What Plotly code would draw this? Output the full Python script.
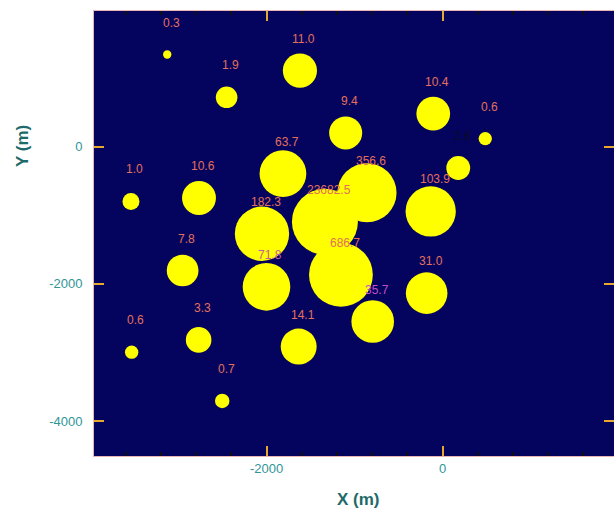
import plotly.graph_objects as go
import numpy as np

# Well / source locations (m) and their values
x_m = [-3130, -2455, -1622, -1102, -107, 484, 177, -3542, -2769, -1815, -860, -136,
       -2053, -1338, -2955, -2002, -1156, -182, -795, -3534, -2773, -1636, -2505]
y_m = [1343, 720, 1109, 200, 482, 117, -311, -799, -749, -394, -672, -945,
       -1270, -1095, -1806, -2044, -1869, -2136, -2550, -2997, -2818, -2915, -3708]
values = [0.3, 1.9, 11.0, 9.4, 10.4, 0.6, 2.6, 1.0, 10.6, 63.7, 356.6, 103.9,
          182.3, 23682.5, 7.8, 71.8, 686.7, 31.0, 35.7, 0.6, 3.3, 14.1, 0.7]
label_shown = [True, True, True, True, True, True, False, True, True, True, True, True,
               True, True, True, True, True, True, True, True, True, True, True]
x_ticks = [-2000, 0]
y_ticks = [-4000, -2000, 0]

vals = np.array(values)
sizes = np.minimum(17 + 16.5 * np.log10(vals), 66)

W, H = 614, 512
L, T, R, B = 94, 11, 0, 56

fig = go.Figure()
fig.add_trace(go.Scatter(
    x=x_m, y=y_m, mode="markers",
    marker=dict(size=sizes, color="#ffff00", line=dict(width=0), opacity=1),
    hoverinfo="skip", showlegend=False))

label_color = "#e2705c"
magenta = {15: "#c65aa8", 18: "#c050c8"}
for i, (xv, yv, v) in enumerate(zip(x_m, y_m, values)):
    col = label_color if label_shown[i] else "#0a0a28"
    col = magenta.get(i, col)
    fig.add_annotation(x=xv, y=yv, text=f"{v:.1f}", showarrow=False,
                       yshift=32, xshift=4,
                       font=dict(family="Arial, Liberation Sans, sans-serif", size=12, color=col))

pw, ph = 614 - 94, 456 - 11
fig.add_annotation(xref="paper", yref="paper", xanchor="center", yanchor="middle",
                   x=(358 - 94) / pw, y=-(500 - 456) / ph,
                   text="<b>X (m)</b>", showarrow=False,
                   font=dict(family="Arial, Liberation Sans, sans-serif", size=17, color="#1e6a6a"))
fig.add_annotation(xref="paper", yref="paper", xanchor="center", yanchor="middle",
                   x=-(94 - 23) / pw, y=(456 - 146) / ph,
                   text="<b>Y (m)</b>", textangle=-90, showarrow=False,
                   font=dict(family="Arial, Liberation Sans, sans-serif", size=17, color="#1e6a6a"))

axis_common = dict(
    showgrid=False, zeroline=False, showline=True, linecolor="#e8b4b4", linewidth=1,
    mirror="allticks", ticks="inside", ticklen=10, tickwidth=2, tickcolor="#e8a830",
    tickfont=dict(family="Arial, Liberation Sans, sans-serif", size=13, color="#2f9696"),
)
fig.update_xaxes(range=[-3962, 1947], tickvals=x_ticks, ticktext=[str(t) for t in x_ticks],
                 minor=dict(ticks="inside", ticklen=4, tickcolor="#101010", dtick=400, tick0=0),
                 **axis_common)
fig.update_yaxes(range=[-4511, 1978], tickvals=y_ticks, ticktext=[str(t) for t in y_ticks],
                 ticklabelstandoff=8, **axis_common)

fig.update_layout(
    width=W, height=H,
    margin=dict(l=L, r=R, t=T, b=B),
    plot_bgcolor="#04045e", paper_bgcolor="#ffffff",
)
fig.write_html("out.html", config={"displayModeBar": False},
               post_script="document.body.style.margin='0px';document.body.style.overflow='hidden';")
